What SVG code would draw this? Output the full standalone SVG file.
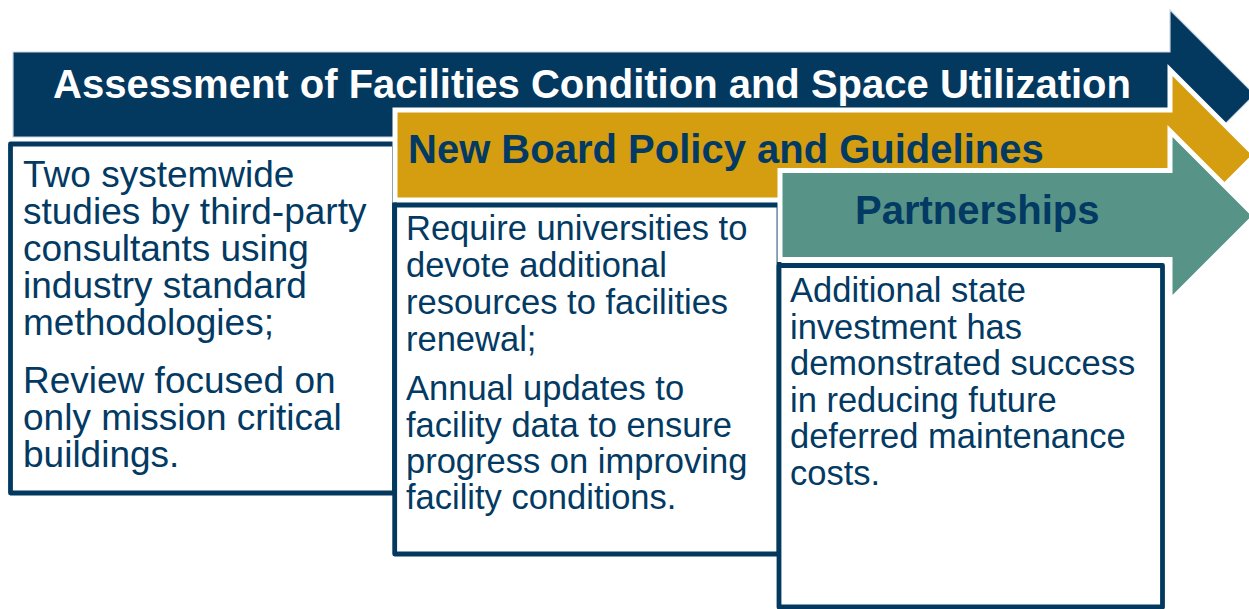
<svg xmlns="http://www.w3.org/2000/svg" width="1249" height="609" viewBox="0 0 1249 609">
  <style>
    .arrow-navy { fill: #03385f; stroke: #c9d5e2; stroke-width: 1.2; }
    .arrow-gold { fill: #d59e10; stroke: #ffffff; stroke-width: 5; stroke-linejoin: miter; stroke-miterlimit: 10; }
    .arrow-teal { fill: #579487; stroke: #ffffff; stroke-width: 5; stroke-linejoin: miter; stroke-miterlimit: 10; }
    .box { fill: #ffffff; stroke: #03385f; stroke-width: 4.8; stroke-linejoin: round; }
    .head { font-family: "Liberation Sans", Arial, sans-serif; font-weight: bold; font-size: 40px; }
    .body1 { font-family: "Liberation Sans", Arial, sans-serif; font-size: 37px; fill: #033a63; }
    .body2 { font-family: "Liberation Sans", Arial, sans-serif; font-size: 34.5px; fill: #033a63; }
  </style>

  <g id="stage-assessment">
    <polygon class="arrow-navy" points="13,52 1170,52 1170,10 1254.5,94.5 1170,179 1170,137 13,137"/>
    <text class="head" x="53" y="98" fill="#ffffff">Assessment of Facilities Condition and Space Utilization</text>
  </g>

  <g id="box-assessment">
    <rect class="box" x="10.5" y="144" width="384" height="349"/>
    <text class="body1">
      <tspan x="23" y="187">Two systemwide</tspan>
      <tspan x="23" y="224">studies by third-party</tspan>
      <tspan x="23" y="261">consultants using</tspan>
      <tspan x="23" y="298">industry standard</tspan>
      <tspan x="23" y="335">methodologies;</tspan>
      <tspan x="23" y="393">Review focused on</tspan>
      <tspan x="23" y="430">only mission critical</tspan>
      <tspan x="23" y="467">buildings.</tspan>
    </text>
  </g>

  <g id="stage-policy">
    <polygon class="arrow-gold" points="395,110 1170,110 1170,70 1255,155 1170,240 1170,200 395,200"/>
    <text class="head" x="408" y="163" fill="#033a63">New Board Policy and Guidelines</text>
  </g>

  <g id="box-policy">
    <rect class="box" x="394.7" y="205" width="384.3" height="349"/>
    <text class="body2">
      <tspan x="406" y="240">Require universities to</tspan>
      <tspan x="406" y="277">devote additional</tspan>
      <tspan x="406" y="314">resources to facilities</tspan>
      <tspan x="406" y="351">renewal;</tspan>
      <tspan x="406" y="400">Annual updates to</tspan>
      <tspan x="406" y="437">facility data to ensure</tspan>
      <tspan x="406" y="473">progress on improving</tspan>
      <tspan x="406" y="509">facility conditions.</tspan>
    </text>
  </g>

  <g id="stage-partnerships">
    <polygon class="arrow-teal" points="780,170.5 1170,170.5 1170,131 1255,216 1170,301 1170,259.5 780,259.5"/>
    <text class="head" x="855" y="224" fill="#033a63">Partnerships</text>
  </g>

  <g id="box-partnerships">
    <rect class="box" x="779" y="265.5" width="383.5" height="341.5"/>
    <text class="body2">
      <tspan x="790" y="302">Additional state</tspan>
      <tspan x="790" y="338.5">investment has</tspan>
      <tspan x="790" y="375">demonstrated success</tspan>
      <tspan x="790" y="411.5">in reducing future</tspan>
      <tspan x="790" y="448">deferred maintenance</tspan>
      <tspan x="790" y="484.5">costs.</tspan>
    </text>
  </g>
</svg>
